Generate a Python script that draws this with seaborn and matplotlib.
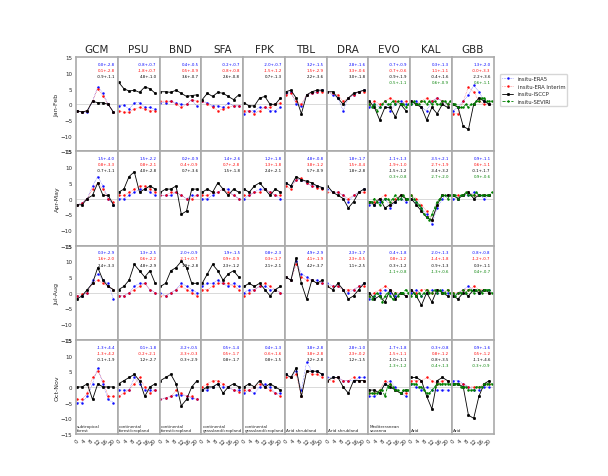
import numpy as np
import matplotlib
matplotlib.use("Agg")
import matplotlib.pyplot as plt
import seaborn as sns

sites = ["GCM", "PSU", "BND", "SFA", "FPK", "TBL", "DRA", "EVO", "KAL", "GBB"]
seasons = ["Jan-Feb", "Apr-May", "Jul-Aug", "Oct-Nov"]
land = ["subtropical\nforest", "continental\nforest/cropland", "continental\nforest/cropland",
        "continental\ngrassland/cropland", "continental\ngrassland/cropland", "Arid shrubland",
        "Arid shrubland", "Mediterranean\nsavanna", "Arid", "Arid"]
hours = [0, 3, 6, 9, 12, 15, 18, 21]
hours_sev = [0, 1.5, 3, 4.5, 6, 7.5, 9, 10.5, 12, 13.5, 15, 16.5, 18, 19.5, 21, 22.5]

# [season][site]
era5 = [
    [[-2,-2.5,-2.5,1,5.5,3.5,0,-2.5],[-0.5,-0.3,-1.5,0.5,0.5,-1,-1,-1.5],[0.5,0.5,1,0.5,0,0,1.5,-0.5],
     [1,0.5,-0.5,-0.5,-1,0.5,-0.5,-0.5],[-3,-2,-2,-1,-1,-2,-2,-1],[3.5,4,0,-0.5,3,3.5,4,4.5],
     [4,3,2,-2,2,3,4,4.5],[-1,0,-1,1,-2,0,1,0],[0,1,-1,-2,1,2,1,0],[-2,-1,1,3,6,4,1,0]],
    [[-2,-1.5,0,4,7,4,0,-2],[0,0,1,2,3,3,2,1],[1,1,1,2,1,0,1,1],[0,0,1,2,3,3,1,0],[0,1,2,3,3,2,1,0],
     [5,4,6,6,5,4,4,3.5],[3,2,2,1,-1,1,2,3],[-2,-2,-1,0,-3,-1,0,-1],[0,-1,-3,-5,-8,-3,0,1],[0,0,1,1,2,1,0,1]],
    [[-1,-1,0,4,6,4,3,-2],[-1,-1,0,2,3,3,1,0],[0,-1,0,1,3,2,1,0],[2,3,3,4,3,2,3,2],[0,1,1,2,2,1,1,0],
     [5,4,10,6,5,4,4,3],[3,2,2,1,0,1,2,3],[-2,-1,0,1,0,-1,0,-1],[0,1,-1,0,1,0,1,0],[-1,0,1,2,1,0,1,1]],
    [[-5,-5,-3,1,6,1,-4,-5],[-1,-1,-1,3,1,-1,-1,-1],[-4,-3.5,-3,-2.5,-2.5,-3,-3.5,-4],[-1,-1,0,1,0,0,-1,-1],
     [-2,-1,-2,0,1,0,-2,-2],[4,3,5,-1,8,5,5,4],[3,3,3,2,2,2,3,3],[-3,-3,-2,1,2,0,-2,-3],[1,0,-1,0,-1,-1,-1,-1],[2,2,1,0,-1,-1,0,0]],
]
interim = [
    [[-2,-2.5,-2,1,5,2.5,0,-2.5],[-2,-2.5,-2.5,-1.5,-1,-1.5,-2,-2],[1,1,1,0,-1,0,1.5,1],[1,0,-1,-2,-1.5,-1,-0.5,-0.5],
     [-2,-2,-3,-2,-1,-1,0,0.5],[3,3.5,1,0,3,3.5,4,4],[4,3.5,3,1,2,3,4,4],[0,1,0,1,2,1,0,1],[1,0,1,2,1,2,1,0],[-3,-3,1,5.5,4,1,0,0]],
    [[-2,-1.5,0,3,5,3,0,-1],[1,1,2,3,4,4,3,2],[1,1,2,2,1,0,0,1],[1,1,2,2,3,2,1,0],[1,1,2,2,3,2,1,1],
     [4,3,6,6.5,5,4,3.5,3],[2,2,2,1,0,1,2,2],[-1,-1,0,1,-2,0,1,0],[1,0,-2,-4,-7,-2,1,1],[1,1,1,2,1,1,1,1]],
    [[-1,-0.5,0,3,4,3,2,1],[-1,-1,0,1,2,3,1,0],[-1,-1,0,1,2,1,0,-1],[1,1,2,3,3,3,2,1],[-1,0,1,2,3,2,1,0],
     [5,4,9,5,4,4,3,3],[2,2,2,1,1,1,2,2],[-1,0,1,2,1,0,0,-1],[1,0,1,1,0,1,0,1],[0,0,1,1,2,1,1,0]],
    [[-4,-4,-2,3,5,2,-3,-3],[-3,-2,-1,1,3,0,-2,-1],[-4,-3.5,-3,-1,-2,-3,-3,-4],[0,1,2,2,1,0,-1,-1.5],
     [-1,-1,0,1,0,-1,-2,-3],[3,3,4,-3,5,4,4,3],[2,2,3,2,2,3,2,2],[-2,-2,-1,2,1,-1,-2,-2],[2,2,2,3,2,1,2,2],[1,1,1,0,0,0,1,1]],
]
isccp = [
    [[-2,-2.5,-2,1,0.5,0.5,0,-2.5],[7,5,4.2,4.5,3.8,5.5,5,3.5],[4,4,3.8,4.5,3.5,2.5,2.8,3],[1.5,3.5,2.5,3.8,3.5,2.5,1.5,3],
     [0.5,-0.5,-0.5,2,2.5,0,0,2],[4,4.5,2,-3,3,4,4.5,4.5],[4,4,2,0,2,3.5,4,4.5],[1,-1,-5,-1,-1,-4,0,-2],[1,0,-1,-5,-1,-3,0,-1],[0,-1,-7,-8,0,2,1,0]],
    [[-2,-2,0,1,5,1,1,-2],[2,3,7,8.5,2,3,4,3],[2,3,3,4,-5,-4,3,3],[2,3,2,5,3,1,3,2],[3,2,4,5,3,1,3,2],
     [5,4,7,6,5.5,5,4,3.5],[4,2,1,0,-3,-1,2,3],[-1,-2,0,-3,-2,-1,1,0],[0,-2,-4,-6,-7,-2,1,1],[1,0,1,2,0,1,1,1]],
    [[-2,-1,1,3,8,4,2,1],[1,2,4,9,7,5,7,3],[2,3,7,8,10,8,3,3],[3,6,9,7,4,6,7,5],[2,3,2,3,1,-1,1,2],
     [5,4,11,3,-2,4,3,4],[2,1,3,1,-2,-1,1,3],[0,-2,-1,-3,1,-2,0,-1],[1,-1,-4,0,-3,1,0,-1],[-1,-2,0,-1,1,0,1,0]],
    [[0,0,1,-4,1,0,0,0],[1,2,3,4,2,-3,0,1],[2,3,4,1,-6,-4,0,2],[-1,0,0,1,-2,0,1,0],[0,1,0,2,0,1,0,-1],
     [4,3,6,-3,5,5,5,4],[2,3,3,0,-2,2,2,2],[-1,-1,-2,1,0,-1,-2,-1],[3,3,2,-3,-7,2,3,2],[1,1,0,-9,-10,-3,1,2]],
]
# SEVIRI only for EVO, KAL, GBB
seviri = [
    [[0,-1,0,-2,-1,0,1,0,0,1,0,1,0,0,-1,0],[0,1,0,0,1,1,0,1,0,1,0,0,1,1,0,1],[0,0,-1,-1,-1,0,-1,0,0,1,1,2,2,1,1,1]],
    [[-1,-1,0,-1,-2,-1,0,0,-1,0,1,0,0,1,0,0],[1,0,-1,-2,-3,-5,-6,-7,-5,-3,-1,0,1,1,0,1],[1,1,0,1,1,2,1,1,1,2,1,1,1,1,1,2]],
    [[-1,-2,-1,0,-1,-3,-1,0,-1,-2,0,-1,0,0,1,0],[-1,0,-1,0,-1,0,1,0,0,1,0,1,0,0,1,0],[0,-1,0,0,1,0,1,1,0,1,1,0,1,1,1,0]],
    [[-2,-2,-2,-2,-1,-1,-3,0,1,0,-1,-1,-2,-1,-1,-1],[1,1,1,0,0,-1,-2,-2,-1,0,1,1,1,1,1,1],[1,1,1,0,0,0,-1,-1,-1,0,0,0,1,1,1,1]],
]
stats = [
    [["0.0+-2.8","0.1+-2.8","-0.9+-1.1"],["-0.8+-0.7","-1.8+-0.7","4.8+-1.0"],["0.4+-0.5","0.5+-0.9","3.6+-0.7"],
     ["-0.2+-0.7","-0.8+-0.8","2.6+-0.8"],["-2.0+-0.7","-1.5+-1.2","0.7+-1.3"],["3.2+-1.5","1.5+-2.9","2.2+-3.6"],
     ["2.8+-1.6","3.3+-0.6","3.0+-1.8"],["-0.7+-0.9","-0.7+-0.6","-0.9+-1.9","-0.5+-1.1"],["0.3+-1.3","1.1+-1.1","-0.4+-1.6","0.6+-0.9"],["1.3+-2.0","-0.0+-3.3","-2.2+-3.6","0.6+-1.1"]],
    [["1.5+-4.0","0.8+-3.3","-0.7+-1.1"],["1.5+-2.2","0.8+-2.1","4.0+-2.8"],["0.2+-0.9","-0.4+-0.9","0.7+-3.6"],
     ["1.4+-2.6","0.7+-2.8","1.5+-1.8"],["1.2+-1.8","1.3+-1.8","2.4+-2.1"],["4.8+-0.8","3.8+-1.2","5.7+-0.9"],
     ["1.8+-1.7","1.5+-0.4","1.8+-2.8"],["-1.1+-1.3","-1.9+-1.0","-1.5+-1.2","-0.3+-0.8"],["-3.5+-2.1","-2.7+-1.9","-3.4+-3.2","-2.7+-2.0"],["0.9+-1.1","0.6+-1.1","-0.1+-1.7","0.9+-0.6"]],
    [["0.3+-2.9","1.6+-2.0","2.4+-3.3"],["1.3+-2.5","0.6+-2.2","4.8+-2.9"],["-2.0+-0.9","-2.1+-0.7","1.9+-2.8"],
     ["1.9+-1.5","0.9+-0.9","2.3+-1.2"],["0.8+-2.3","0.3+-1.7","2.1+-2.1"],["4.9+-2.9","4.1+-1.9","4.2+-3.7"],
     ["2.3+-1.7","2.3+-0.5","1.1+-2.5"],["-0.4+-1.8","0.8+-1.2","-0.3+-1.2","-1.1+-0.8"],["-2.0+-1.3","-1.4+-1.8","-0.9+-1.3","-1.3+-0.6"],["-0.8+-0.8","-1.2+-0.7","0.3+-1.1","0.4+-0.7"]],
    [["-1.3+-4.4","-1.3+-4.2","-0.1+-1.9"],["0.1+-1.8","-0.2+-2.1","1.2+-2.7"],["-3.2+-0.5","-3.3+-0.3","-0.3+-2.9"],
     ["0.5+-1.4","0.5+-1.7","0.8+-1.7"],["0.4+-1.3","-0.6+-1.6","0.8+-1.5"],["3.8+-2.8","3.8+-2.8","3.2+-2.8"],
     ["2.8+-1.0","2.3+-0.2","1.2+-1.5"],["-1.7+-1.8","-1.5+-1.1","-1.0+-1.1","-1.3+-1.2"],["-0.3+-0.8","0.8+-1.2","-0.8+-3.5","-0.4+-1.3"],["0.9+-1.6","0.5+-1.2","-1.1+-4.6","-0.3+-0.9"]],
]

sns.set_style("white")
plt.rcParams['font.family'] = ['DejaVu Sans']
fig, axes = plt.subplots(4, 10, figsize=(6.08, 4.77), dpi=100, sharex=True, sharey=True)
fig.subplots_adjust(left=0.125, right=0.812, top=0.878, bottom=0.088, wspace=0, hspace=0)
colors = ["blue", "red", "black", "green"]

for r in range(4):
    for c in range(10):
        ax = axes[r, c]
        ax.axhline(0, color="lightgray", lw=0.6, zorder=0)
        sns.lineplot(x=hours, y=era5[r][c], ax=ax, color="blue", lw=0.4, ls=":", marker="o", ms=1.1, mec="blue", alpha=0.8, label="insitu-ERA5")
        sns.lineplot(x=hours, y=interim[r][c], ax=ax, color="red", lw=0.4, ls=":", marker="o", ms=1.1, mec="red", alpha=0.8, label="insitu-ERA Interim")
        sns.lineplot(x=hours, y=isccp[r][c], ax=ax, color="black", lw=0.6, marker="s", ms=1.2, mec="black", label="insitu-ISCCP")
        if c >= 7:
            sns.lineplot(x=hours_sev, y=seviri[r][c - 7], ax=ax, color="green", lw=0.6, ls="--", marker="o", ms=1.0, mec="green", label="insitu-SEVIRI")
        if not (r == 0 and c == 9):
            ax.get_legend().remove()
        for k, s in enumerate(stats[r][c]):
            ax.text(0.93, 0.95 - k * 0.065, s, transform=ax.transAxes, ha="right", va="top", fontsize=2.8, color=colors[k])
        ax.set_xlim(-0.5, 23.5)
        ax.set_ylim(-15, 15)
        ax.set_xticks([0, 4, 8, 12, 16, 20])
        ax.set_yticks([-15, -10, -5, 0, 5, 10, 15])
        ax.tick_params(labelsize=4, length=1.5, pad=1)
        plt.setp(ax.get_xticklabels(), rotation=45)
        for sp in ax.spines.values():
            sp.set_color("#aaaaaa")
            sp.set_linewidth(1.2)
        if r == 0:
            ax.set_title(sites[c], fontsize=7.5, pad=4)
        if c == 0:
            ax.set_ylabel(seasons[r], fontsize=4.5, labelpad=1)
        if r == 3:
            ax.text(0.03, 0.02, land[c], transform=ax.transAxes, fontsize=3, va="bottom", ha="left")

axes[0, 9].legend(loc="upper left", bbox_to_anchor=(1.08, 0.85), fontsize=3.8, frameon=True, handlelength=2.2)
fig.savefig("out.png", dpi=100)
